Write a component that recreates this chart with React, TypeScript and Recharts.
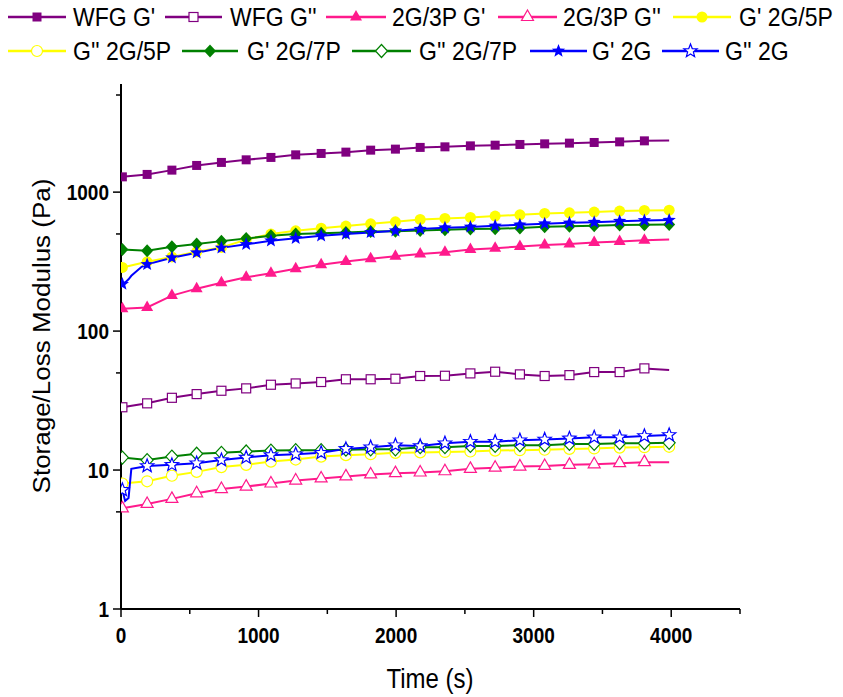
import React from 'react';
import { LineChart, Line, XAxis, YAxis } from 'recharts';

// marker times (s), one marker every ~181 s
const TIMES = [10, 190, 370, 550, 730, 910, 1090, 1270, 1455, 1635, 1815, 1995, 2175, 2355, 2540, 2720, 2900, 3080, 3260, 3440, 3625, 3805, 3985];
// extra points for the steep start of the 2G curves (no markers)
const EARLY_TIMES = [30, 55, 75, 150];

const WFG_G1 = [1288, 1341, 1440, 1556, 1636, 1708, 1777, 1855, 1898, 1940, 2005, 2039, 2098, 2118, 2153, 2177, 2203, 2226, 2252, 2277, 2300, 2339, 2354];
const WFG_G2 = [28.3, 30.2, 33.1, 35.2, 37.2, 38.7, 41.1, 42.0, 43.0, 45.0, 45.0, 45.4, 47.5, 47.7, 49.6, 51.0, 48.8, 47.5, 48.2, 50.7, 50.7, 53.9, 52.4];
const P3_G1 = [145, 148, 180, 202, 223, 244, 261, 281, 300, 317, 332, 345, 359, 370, 386, 395, 406, 417, 424, 434, 442, 450, 457];
const P3_G2 = [5.3, 5.7, 6.2, 6.8, 7.3, 7.6, 8.0, 8.4, 8.7, 9.0, 9.3, 9.5, 9.6, 9.8, 10.2, 10.4, 10.6, 10.7, 10.9, 11.0, 11.2, 11.4, 11.4];
const P5_G1 = [287, 315, 342, 372, 400, 455, 499, 527, 550, 570, 592, 611, 636, 647, 658, 672, 687, 703, 710, 718, 730, 738, 742];
const P5_G2 = [8.0, 8.3, 9.1, 9.7, 10.5, 10.9, 11.5, 11.9, 12.5, 12.8, 13.0, 13.3, 13.4, 13.5, 13.6, 13.8, 13.9, 14.0, 14.2, 14.3, 14.5, 14.6, 14.7];
const P7_G1 = [387, 378, 404, 423, 444, 464, 485, 499, 505, 513, 521, 524, 530, 536, 542, 545, 551, 563, 569, 572, 579, 582, 586];
const P7_G2 = [12.3, 11.8, 12.5, 13.1, 13.3, 13.6, 13.8, 13.9, 13.9, 14.0, 14.1, 14.1, 14.6, 14.6, 14.9, 14.9, 15.1, 15.1, 15.4, 15.4, 15.6, 15.6, 15.7];
const G2_G1 = [218, 302, 337, 366, 397, 421, 447, 465, 485, 499, 513, 527, 542, 554, 562, 572, 582, 592, 601, 608, 618, 626, 629];
const G2_G2 = [7.2, 10.7, 10.9, 11.2, 11.8, 12.3, 12.8, 13.0, 13.3, 14.2, 14.6, 15.1, 14.9, 15.6, 16.0, 16.0, 16.4, 16.6, 16.9, 17.2, 17.2, 17.6, 17.9];
const G2_G1_EARLY = [224, 236, 250, 290];
const G2_G2_EARLY = [6.0, 6.3, 10.2, 10.5];

const X_TICKS = [0, 500, 1000, 1500, 2000, 2500, 3000, 3500, 4000, 4500];
const X_LABELS = [0, 1000, 2000, 3000, 4000];
const Y_TICKS = [1, 5, 10, 50, 100, 500, 1000, 5000];
const Y_LABELS = [1, 10, 100, 1000];

const PURPLE = '#800080';
const PINK = '#ff1a8c';
const YELLOW = '#ffff00';
const GREEN = '#008000';
const BLUE = '#0000ff';
const FONT = 'Liberation Sans, Arial, sans-serif';

type Shape = 'square' | 'triangle' | 'circle' | 'diamond' | 'star';

const SERIES = [
  { key: 's1', name: "WFG G'", color: PURPLE, shape: 'square' as Shape, filled: true, values: WFG_G1, last: 3805 },
  { key: 's2', name: "WFG G''", color: PURPLE, shape: 'square' as Shape, filled: false, values: WFG_G2, last: 3805 },
  { key: 's3', name: "2G/3P G'", color: PINK, shape: 'triangle' as Shape, filled: true, values: P3_G1, last: 3805 },
  { key: 's4', name: "2G/3P G''", color: PINK, shape: 'triangle' as Shape, filled: false, values: P3_G2, last: 3805 },
  { key: 's5', name: "G' 2G/5P", color: YELLOW, shape: 'circle' as Shape, filled: true, values: P5_G1, last: 3985 },
  { key: 's6', name: "G'' 2G/5P", color: YELLOW, shape: 'circle' as Shape, filled: false, values: P5_G2, last: 3985 },
  { key: 's7', name: "G' 2G/7P", color: GREEN, shape: 'diamond' as Shape, filled: true, values: P7_G1, last: 3985 },
  { key: 's8', name: "G'' 2G/7P", color: GREEN, shape: 'diamond' as Shape, filled: false, values: P7_G2, last: 3985 },
  { key: 's9', name: "G' 2G", color: BLUE, shape: 'star' as Shape, filled: true, values: G2_G1, early: G2_G1_EARLY, last: 3985 },
  { key: 's10', name: "G'' 2G", color: BLUE, shape: 'star' as Shape, filled: false, values: G2_G2, early: G2_G2_EARLY, last: 3985 },
];

const MARKER_SET = new Set(TIMES);

const rows = [...TIMES, ...EARLY_TIMES]
  .sort((a, b) => a - b)
  .map((t) => {
    const row: Record<string, number | undefined> = { t };
    SERIES.forEach((s) => {
      const i = TIMES.indexOf(t);
      if (i >= 0) row[s.key] = s.values[i];
      else if (s.early) row[s.key] = s.early[EARLY_TIMES.indexOf(t)];
    });
    return row;
  });

// legend layout: [lineStart, lineEnd, textX, rowY]
const LEGEND_POS = [
  [8, 66, 73, 17], [165, 222, 230, 17], [326, 386, 392, 17], [498, 557, 563, 17], [673, 731, 739, 17],
  [8, 66, 73, 51], [182, 238, 247, 51], [352, 411, 419, 51], [530, 587, 592, 51], [662, 719, 725, 51],
];

function Marker({ shape, cx, cy, color, filled }: { shape: Shape; cx: number; cy: number; color: string; filled: boolean }) {
  const fill = filled ? color : '#fff';
  const sw = filled ? 0 : 1.2;
  if (shape === 'square') return <rect x={cx - 4.5} y={cy - 4.5} width={9} height={9} fill={fill} stroke={color} strokeWidth={sw} />;
  if (shape === 'circle') return <circle cx={cx} cy={cy} r={5.5} fill={fill} stroke={color} strokeWidth={sw} />;
  if (shape === 'triangle') {
    const pts = `${cx},${cy - 7} ${cx + 6},${cy + 3.5} ${cx - 6},${cy + 3.5}`;
    return <polygon points={pts} fill={fill} stroke={color} strokeWidth={sw} />;
  }
  if (shape === 'diamond') {
    const pts = `${cx},${cy - 6.5} ${cx + 6},${cy} ${cx},${cy + 6.5} ${cx - 6},${cy}`;
    return <polygon points={pts} fill={fill} stroke={color} strokeWidth={sw} />;
  }
  const pts: string[] = [];
  for (let k = 0; k < 10; k++) {
    const a = (-90 + k * 36) * (Math.PI / 180);
    const r = k % 2 === 0 ? 7 : 3;
    pts.push(`${cx + r * Math.cos(a)},${cy + r * Math.sin(a)}`);
  }
  return <polygon points={pts.join(' ')} fill={fill} stroke={color} strokeWidth={sw} />;
}

const XTick = (props: any) => {
  const { x, y, payload } = props;
  const major = X_LABELS.includes(payload.value);
  return (
    <g>
      <line x1={x} x2={x} y1={y} y2={y + (major ? 8 : 5)} stroke="#000" strokeWidth={1.5} />
      {major && (
        <text
          transform={`translate(${x},${y + 26}) scale(1,1.15)`}
          textAnchor="middle"
          dominantBaseline="central"
          fontSize={19}
          fontWeight="bold"
          fontFamily={FONT}
          fill="#000"
        >
          {payload.value}
        </text>
      )}
    </g>
  );
};

const YTick = (props: any) => {
  const { x, y, payload } = props;
  const major = Y_LABELS.includes(payload.value);
  return (
    <g>
      <line x1={x - (major ? 8 : 5)} x2={x} y1={y} y2={y} stroke="#000" strokeWidth={1.5} />
      {major && (
        <text
          transform={`translate(${x - 12},${y}) scale(1,1.15)`}
          textAnchor="end"
          dominantBaseline="central"
          fontSize={19}
          fontWeight="bold"
          fontFamily={FONT}
          fill="#000"
        >
          {payload.value}
        </text>
      )}
    </g>
  );
};

export default function App() {
  return (
    <div style={{ position: 'absolute', left: 0, top: 0, width: 843, height: 697, background: '#fff' }}>
      <LineChart width={843} height={697} data={rows} margin={{ top: 84, right: 103, bottom: 28, left: 41 }}>
        <XAxis
          type="number"
          dataKey="t"
          domain={[0, 4500]}
          ticks={X_TICKS}
          tick={<XTick />}
          tickLine={false}
          tickSize={0}
          tickMargin={0}
          height={60}
          axisLine={{ stroke: '#000', strokeWidth: 2 }}
          allowDataOverflow
        />
        <YAxis
          scale="log"
          domain={[1, 6000]}
          ticks={Y_TICKS}
          tick={<YTick />}
          tickLine={false}
          tickSize={0}
          tickMargin={0}
          width={80}
          axisLine={{ stroke: '#000', strokeWidth: 2 }}
          allowDataOverflow
        />
        {SERIES.map((s) => (
          <Line
            key={s.key}
            dataKey={s.key}
            type="linear"
            stroke={s.color}
            strokeWidth={2}
            connectNulls
            isAnimationActive={false}
            activeDot={false}
            dot={(p: any) => {
              const t = p.payload.t;
              if (!MARKER_SET.has(t) || t > s.last || p.cx == null || p.cy == null) return <g key={p.index} />;
              return (
                <g key={p.index}>
                  <Marker shape={s.shape} cx={p.cx} cy={p.cy} color={s.color} filled={s.filled} />
                </g>
              );
            }}
          />
        ))}
      </LineChart>
      <svg width={843} height={697} style={{ position: 'absolute', left: 0, top: 0, pointerEvents: 'none' }}>
        {SERIES.map((s, i) => {
          const [x1, x2, tx, ry] = LEGEND_POS[i];
          return (
            <g key={s.key}>
              <line x1={x1} x2={x2} y1={ry} y2={ry} stroke={s.color} strokeWidth={2.5} />
              <Marker shape={s.shape} cx={(x1 + x2) / 2} cy={ry} color={s.color} filled={s.filled} />
              <text
                transform={`translate(${tx},${ry}) scale(1,1.15)`}
                dominantBaseline="central"
                fontSize={23}
                fontFamily={FONT}
                fill="#000"
              >
                {s.name}
              </text>
            </g>
          );
        })}
        <text
          transform="translate(430,678) scale(1,1.15)"
          textAnchor="middle"
          dominantBaseline="central"
          fontSize={24}
          fontFamily={FONT}
          fill="#000"
        >
          Time (s)
        </text>
        <text
          transform="translate(42,336) rotate(-90) scale(1.13,1)"
          textAnchor="middle"
          dominantBaseline="central"
          fontSize={23}
          fontFamily={FONT}
          fill="#000"
        >
          Storage/Loss Modulus (Pa)
        </text>
      </svg>
    </div>
  );
}
